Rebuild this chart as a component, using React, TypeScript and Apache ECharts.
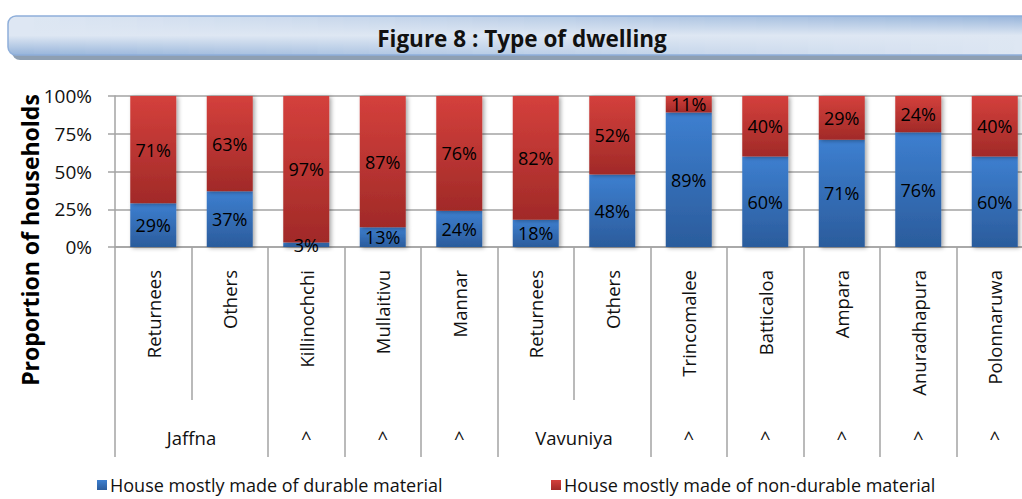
import React, { useEffect, useRef } from "react";
import * as echarts from "echarts";

const categories = ["Returnees", "Others", "Killinochchi", "Mullaitivu", "Mannar", "Returnees", "Others", "Trincomalee", "Batticaloa", "Ampara", "Anuradhapura", "Polonnaruwa"];
const durable = [29, 37, 3, 13, 24, 18, 48, 89, 60, 71, 76, 60];
const nonDurable = [71, 63, 97, 87, 76, 82, 52, 11, 40, 29, 24, 40];
const groupLabels = ["Jaffna", "^", "^", "^", "Vavuniya", "^", "^", "^", "^", "^"];
const groupSizes = [2, 1, 1, 1, 2, 1, 1, 1, 1, 1];
const yMin = 0;
const yMax = 100;
const yStep = 25;
const seriesNames = ["House mostly made of durable material", "House mostly made of non-durable material"];
const titleText = "Figure 8 : Type of dwelling";
const yTitle = "Proportion of households";

const FONT = "'Open Sans', sans-serif";
const AXIS_GRAY = "#a3a3a3";

function lerpColor(a: number[], b: number[], t: number) {
  const c = a.map((v, i) => Math.round(v + (b[i] - v) * t));
  return `rgb(${c[0]},${c[1]},${c[2]})`;
}

export default function App() {
  const ref = useRef<HTMLDivElement>(null);
  useEffect(() => {
    if (!ref.current) return;
    const chart = echarts.init(ref.current, null, { renderer: "svg" });

    const bounds: number[] = [0];
    const centers: number[] = [];
    let acc = 0;
    groupSizes.forEach((s) => {
      centers.push(acc + s / 2);
      acc += s;
      bounds.push(acc);
    });
    const labelAt = (v: number) => {
      const i = centers.findIndex((c) => Math.abs(c - v) < 1e-6);
      return i >= 0 ? groupLabels[i] : "";
    };

    const light = [222, 231, 243];
    const blue = [150, 180, 218];
    const bx0 = 8, bx1 = 1040, by0 = 16, by1 = 55;
    const N = 40;
    const sw = (bx1 - bx0) / N;
    const strips: any[] = [];
    for (let i = 0; i < N; i++) {
      const t = i / (N - 1);
      strips.push({
        type: "rect",
        shape: { x: bx0 + i * sw, y: by0, width: sw + 1, height: by1 - by0, r: i === 0 ? [8, 0, 0, 8] : 0 },
        style: {
          fill: new echarts.graphic.LinearGradient(0, 0, 0, 1, [
            { offset: 0, color: lerpColor(light, blue, t) },
            { offset: 0.5, color: lerpColor(light, light, t) },
            { offset: 1, color: lerpColor(blue, light, t) },
          ]),
        },
        silent: true,
      });
    }

    const legendText = { fontFamily: FONT, fontSize: 18, color: "#111", padding: [0, 0, 0, -2] };

    const option: any = {
      animation: false,
      textStyle: { fontFamily: FONT },
      graphic: [
        {
          type: "rect",
          shape: { x: 12, y: 20, width: 1040, height: 40, r: 8 },
          style: { fill: "#8e9fb2" },
          silent: true,
        },
        ...strips,
        {
          type: "rect",
          shape: { x: bx0, y: by0, width: bx1 - bx0 + 20, height: by1 - by0, r: 8 },
          style: { fill: "none", stroke: "#8fafda", lineWidth: 1.5 },
          silent: true,
        },
        {
          type: "text",
          x: 522,
          y: 38,
          style: {
            text: titleText,
            fontFamily: FONT,
            fontWeight: "bold",
            fontSize: 22.5,
            fill: "#111",
            align: "center",
            verticalAlign: "middle",
          },
        },
        {
          type: "text",
          x: 30,
          y: 240,
          rotation: Math.PI / 2,
          style: {
            text: yTitle,
            fontFamily: FONT,
            fontWeight: "bold",
            fontSize: 23,
            fill: "#000",
            align: "center",
            verticalAlign: "middle",
          },
        },
      ],
      legend: [
        {
          data: [seriesNames[0]],
          left: 97,
          top: 476,
          padding: 0,
          icon: "rect",
          itemWidth: 10,
          itemHeight: 10,
          itemGap: 4,
          textStyle: legendText,
        },
        {
          data: [seriesNames[1]],
          left: 551,
          top: 476,
          padding: 0,
          icon: "rect",
          itemWidth: 10,
          itemHeight: 10,
          itemGap: 4,
          textStyle: legendText,
        },
      ],
      grid: { left: 115, right: 7, top: 96, bottom: 252, containLabel: false },
      xAxis: [
        {
          type: "category",
          data: categories,
          axisLine: { show: true, lineStyle: { color: AXIS_GRAY, width: 1.5 } },
          axisTick: { show: true, interval: 0, length: 153, lineStyle: { color: AXIS_GRAY, width: 1.5 } },
          axisLabel: { interval: 0, rotate: 90, margin: 23, fontSize: 18.5, color: "#111", fontFamily: FONT },
          splitLine: { show: false },
        },
        {
          type: "value",
          position: "bottom",
          offset: 153,
          min: 0,
          max: categories.length,
          axisLine: { show: false },
          splitLine: { show: false },
          axisTick: { show: true, customValues: bounds, length: 57, lineStyle: { color: AXIS_GRAY, width: 1.5 } },
          axisLabel: {
            customValues: centers,
            formatter: (v: number) => labelAt(v),
            margin: 28,
            fontSize: 18.5,
            color: "#111",
            fontFamily: FONT,
          },
        },
      ],
      yAxis: {
        type: "value",
        min: yMin,
        max: yMax,
        interval: yStep,
        axisLine: { show: true, lineStyle: { color: AXIS_GRAY, width: 1.5 } },
        axisTick: { show: true, length: 7, lineStyle: { color: AXIS_GRAY, width: 1.5 } },
        axisLabel: { formatter: "{value}%", margin: 23, fontSize: 19, color: "#111", fontFamily: FONT },
        splitLine: { show: true, lineStyle: { color: AXIS_GRAY, width: 1.5 } },
      },
      series: [
        {
          name: seriesNames[0],
          type: "bar",
          stack: "total",
          barWidth: 46,
          data: durable,
          itemStyle: {
            color: new echarts.graphic.LinearGradient(0, 0, 0, 1, [
              { offset: 0, color: "#3d7fd0" },
              { offset: 1, color: "#2b5c9c" },
            ]),
            shadowBlur: 4,
            shadowOffsetX: 2,
            shadowOffsetY: 1,
            shadowColor: "rgba(0,0,0,0.35)",
          },
          label: { show: true, position: "inside", formatter: "{c}%", fontSize: 18, color: "#000", fontFamily: FONT },
        },
        {
          name: seriesNames[1],
          type: "bar",
          stack: "total",
          barWidth: 46,
          data: nonDurable,
          itemStyle: {
            color: new echarts.graphic.LinearGradient(0, 0, 0, 1, [
              { offset: 0, color: "#d4403c" },
              { offset: 1, color: "#a12a28" },
            ]),
            shadowBlur: 4,
            shadowOffsetX: 2,
            shadowOffsetY: 1,
            shadowColor: "rgba(0,0,0,0.35)",
          },
          label: { show: true, position: "inside", formatter: "{c}%", fontSize: 18, color: "#000", fontFamily: FONT },
        },
      ],
    };
    chart.setOption(option);
    return () => chart.dispose();
  }, []);

  return (
    <div style={{ position: "absolute", left: 0, top: 0, width: 1022, height: 499, overflow: "hidden", background: "#fff" }}>
      <div ref={ref} style={{ width: 1040, height: 499 }} />
    </div>
  );
}
